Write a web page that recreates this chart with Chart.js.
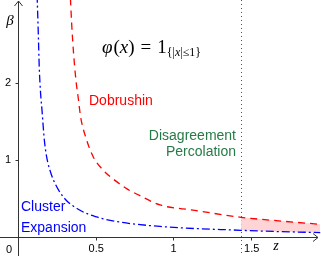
<!DOCTYPE html>
<html>
<head>
<meta charset="utf-8">
<script src="https://cdn.jsdelivr.net/npm/chart.js@4"></script>
<style>
  html, body { margin: 0; padding: 0; background: #fff; }
  canvas { display: block; }
</style>
</head>
<body>
<canvas id="chart" width="321" height="256"></canvas>
<script>
// Cluster expansion bound (blue, dash-dot)
const clusterZ    = [0.117, 0.125, 0.131, 0.140, 0.149, 0.157, 0.164, 0.179, 0.200, 0.222, 0.287, 0.395, 0.503, 0.634, 0.913, 1.437, 1.68, 1.95];
const clusterBeta = [3.15,  2.64,  2.21,  1.86,  1.645, 1.43,  1.26,  1.04,  0.87,  0.745, 0.52,  0.347, 0.26,  0.20,  0.137, 0.087, 0.07, 0.058];

// Dobrushin bound (red, dashed)
const dobrushinZ    = [0.333, 0.341, 0.352, 0.369, 0.384, 0.399, 0.438, 0.481, 0.546, 0.621, 0.697, 0.78, 0.913, 1.126, 1.437, 1.68, 1.95];
const dobrushinBeta = [3.10,  2.77,  2.42,  2.03,  1.80,  1.56,  1.26,  1.04,  0.866, 0.736, 0.628, 0.54, 0.416, 0.35,  0.256, 0.21, 0.165];

// shaded region beyond the percolation line
const shadeZ     = [1.437, 1.68, 1.95];
const shadeUpper = [0.256, 0.21, 0.165];
const shadeLower = [0.087, 0.07, 0.058];

const percolationZ = 1.437;

const xTicks = [0.5, 1, 1.5];
const xTickLabels = ['0.5', '1', '1.5'];
const yTicks = [1, 2];
const yTickLabels = ['1', '2'];

function pts(xs, ys) {
    return xs.map((x, i) => ({ x: x, y: ys[i] }));
}

const axesPlugin = {
    id: 'axes',
    beforeDatasetsDraw(chart) {
        const ctx = chart.ctx;
        const xs = chart.scales.x;
        const px = Math.round(xs.getPixelForValue(percolationZ)) + 0.5;
        ctx.save();
        ctx.strokeStyle = '#2e6b4a';
        ctx.lineWidth = 1;
        ctx.setLineDash([1, 3]);
        ctx.beginPath();
        ctx.moveTo(px, 0);
        ctx.lineTo(px, chart.height);
        ctx.stroke();
        ctx.restore();
    },
    afterDraw(chart) {
        const ctx = chart.ctx;
        const xs = chart.scales.x;
        const ys = chart.scales.y;
        const ox = Math.round(xs.getPixelForValue(0)) - 0.5;
        const oy = Math.round(ys.getPixelForValue(0)) + 0.5;
        ctx.save();
        ctx.strokeStyle = '#333';
        ctx.lineWidth = 1;
        ctx.setLineDash([]);
        ctx.beginPath();
        ctx.moveTo(ox, chart.height);
        ctx.lineTo(ox, 1);
        ctx.moveTo(0, oy);
        ctx.lineTo(chart.width - 3, oy);
        // arrow heads
        ctx.moveTo(ox - 4, 6); ctx.lineTo(ox, 1); ctx.lineTo(ox + 4, 6);
        ctx.moveTo(chart.width - 8, oy - 4); ctx.lineTo(chart.width - 3, oy); ctx.lineTo(chart.width - 8, oy + 4);
        // ticks
        xTicks.forEach(v => {
            const p = Math.round(xs.getPixelForValue(v)) + 0.5;
            ctx.moveTo(p, oy); ctx.lineTo(p, oy + 3);
        });
        yTicks.forEach(v => {
            const p = Math.round(ys.getPixelForValue(v)) + 0.5;
            ctx.moveTo(ox - 3, p); ctx.lineTo(ox, p);
        });
        ctx.stroke();

        ctx.fillStyle = '#000';
        ctx.font = '11px "Liberation Sans", Arial, sans-serif';
        ctx.textAlign = 'center';
        ctx.textBaseline = 'middle';
        xTicks.forEach((v, i) => {
            ctx.fillText(xTickLabels[i], xs.getPixelForValue(v) + (v === 1.5 ? 1 : 0), oy + 11);
        });
        yTicks.forEach((v, i) => {
            ctx.fillText(yTickLabels[i], 8, ys.getPixelForValue(v));
        });
        ctx.fillText('0', 9, oy + 12);

        ctx.font = 'italic 15px "Liberation Serif", serif';
        ctx.fillText('β', 10, 21);
        ctx.font = 'italic 14px "Liberation Serif", serif';
        ctx.fillText('z', 276, oy + 9);

        // formula
        ctx.textAlign = 'left';
        ctx.textBaseline = 'alphabetic';
        let x = 102;
        const base = 53;
        ctx.font = 'italic 19px "Liberation Serif", serif';
        ctx.fillText('φ', x, base); x += ctx.measureText('φ').width + 1;
        ctx.font = '19px "Liberation Serif", serif';
        ctx.fillText('(', x, base); x += ctx.measureText('(').width;
        ctx.font = 'italic 19px "Liberation Serif", serif';
        ctx.fillText('x', x, base); x += ctx.measureText('x').width;
        ctx.font = '19px "Liberation Serif", serif';
        ctx.fillText(')', x, base); x += ctx.measureText(')').width + 6;
        ctx.fillText('=', x, base); x += ctx.measureText('=').width + 6;
        ctx.fillText('1', x, base); x += ctx.measureText('1').width;
        ctx.font = '12px "Liberation Serif", serif';
        ctx.fillText('{|', x, base + 3); x += ctx.measureText('{|').width;
        ctx.font = 'italic 12px "Liberation Serif", serif';
        ctx.fillText('x', x, base + 3); x += ctx.measureText('x').width;
        ctx.font = '12px "Liberation Serif", serif';
        ctx.fillText('|≤1}', x, base + 3);

        // region labels
        ctx.font = '14px "Liberation Sans", Arial, sans-serif';
        ctx.fillStyle = '#ff0000';
        ctx.fillText('Dobrushin', 89, 105);
        ctx.fillStyle = '#0000ff';
        ctx.fillText('Cluster', 21, 211);
        ctx.fillText('Expansion', 21, 232);
        ctx.fillStyle = '#267a47';
        ctx.textAlign = 'right';
        ctx.fillText('Disagreement', 236, 140);
        ctx.fillText('Percolation', 236, 156);
        ctx.restore();
    }
};

new Chart(document.getElementById('chart'), {
    type: 'line',
    data: {
        datasets: [
            {
                data: pts(shadeZ, shadeUpper),
                borderWidth: 0,
                pointRadius: 0,
                backgroundColor: 'rgba(255, 205, 205, 0.85)',
                fill: '+1',
                order: 3
            },
            {
                data: pts(shadeZ, shadeLower),
                borderWidth: 0,
                pointRadius: 0,
                fill: false,
                order: 3
            },
            {
                data: pts(dobrushinZ, dobrushinBeta),
                borderColor: '#ff0000',
                borderWidth: 1.3,
                borderDash: [7, 5],
                pointRadius: 0,
                cubicInterpolationMode: 'monotone',
                fill: false,
                order: 1
            },
            {
                data: pts(clusterZ, clusterBeta),
                borderColor: '#0000ff',
                borderWidth: 1.3,
                borderDash: [8, 3, 2, 3],
                pointRadius: 0,
                cubicInterpolationMode: 'monotone',
                fill: false,
                order: 1
            }
        ]
    },
    options: {
        responsive: false,
        animation: false,
        devicePixelRatio: 1,
        layout: { padding: { left: 19, right: 0, top: 0, bottom: 19 } },
        plugins: { legend: { display: false }, tooltip: { enabled: false } },
        scales: {
            x: { type: 'linear', min: 0, max: 1.955, display: false },
            y: { type: 'linear', min: 0, max: 3.08, display: false }
        }
    },
    plugins: [axesPlugin]
});
</script>
</body>
</html>
